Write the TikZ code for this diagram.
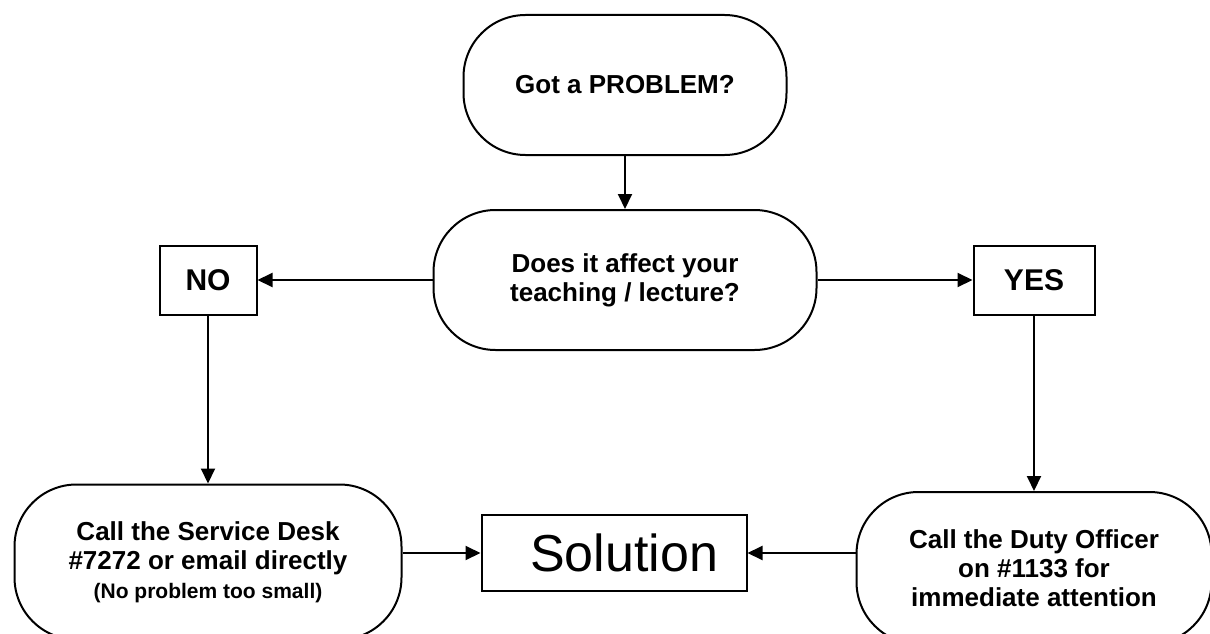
\documentclass[tikz,border=0pt]{standalone}
\usepackage{fontspec}
\setmainfont{Liberation Sans}
\usetikzlibrary{arrows.meta,positioning}

\begin{document}
\begin{tikzpicture}[line width=2pt, >={Triangle[length=15pt,width=14pt]}, node distance=100pt, on grid,
        every node/.style={align=center, inner sep=0pt, font=\fontsize{26}{29}\selectfont\bfseries},
        terminal/.style={draw, rounded corners=62pt, minimum width=#1},
        answer/.style={draw, minimum height=69pt, font=\fontsize{30}{34}\selectfont\bfseries}]
        \useasboundingbox (0pt,0pt) rectangle (1210pt,-634pt);
        \node[terminal=323pt, minimum height=140pt] (prob) at (625pt,-85pt) {Got a PROBLEM?};
        \node[terminal=383pt, minimum height=140pt] (affect) [below=195pt of prob] {Does it affect your\\teaching / lecture?};
        \node[answer, minimum width=97pt]  (no)  [left=417pt of affect]  {NO};
        \node[answer, minimum width=121pt] (yes) [right=409pt of affect] {YES};
        \node[terminal=387pt, minimum height=155pt] (desk) [below=282pt of no]
                {Call the Service Desk\\\#7272 or email directly\\{\fontsize{21}{26}\selectfont(No problem too small)}};
        \node[terminal=355pt, minimum height=152pt] (duty) [below=288pt of yes]
                {Call the Duty Officer\\on \#1133 for\\immediate attention};
        \node[draw, minimum width=265pt, minimum height=76pt, font=\fontsize{52}{56}\selectfont] (sol) [below=273pt of affect, xshift=-11pt] {\hspace{20pt}Solution};

    \path[->]   (prob) edge (affect)
                (affect) edge (no)
                (affect) edge (yes)
                (no) edge (desk)
                (yes) edge (duty)
                (sol.west -| desk.east) edge (sol.west)
                (sol.east -| duty.west) edge (sol.east);
\end{tikzpicture}
\end{document}
